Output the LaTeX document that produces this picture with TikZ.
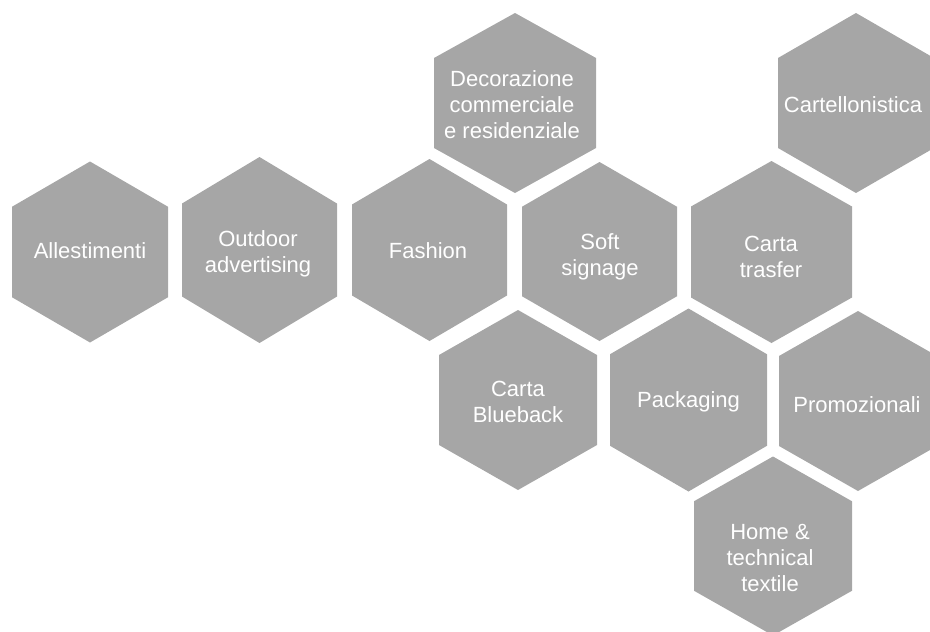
\documentclass[tikz,border=0pt]{standalone}
\usepackage{fontspec}
\setmainfont{Liberation Sans}
\definecolor{hexgray}{RGB}{166,166,166}
\tikzset{
  hexfill/.style={fill=hexgray, draw=none},
  hextext/.style={text=white, align=center, font=\fontsize{22}{26}\selectfont, inner sep=0pt},
}
% centre x, centre y, half-width, half-height
\newcommand{\hexshape}[4]{%
  \fill[hexfill] (#1,#2) +(0,-#4) -- +(#3,-#4/2) -- +(#3,#4/2) -- +(0,#4) -- +(-#3,#4/2) -- +(-#3,-#4/2) -- cycle;}
\begin{document}
\begin{tikzpicture}[x=1pt,y=-1pt]
\useasboundingbox (0,0) rectangle (930,632);
\clip (0,0) rectangle (930,632);
% hexagons
\hexshape{90}{252}{78}{90.5}
\hexshape{259.5}{250}{77.5}{93}
\hexshape{515}{103}{81}{90}
\hexshape{429.5}{250}{77.5}{91}
\hexshape{599.5}{251.5}{77.5}{89.5}
\hexshape{856}{103}{78}{90}
\hexshape{771.5}{252}{80.5}{91}
\hexshape{518}{400}{79}{90}
\hexshape{688.5}{400}{78.5}{91.5}
\hexshape{858}{401}{79}{90}
\hexshape{773}{546}{79}{89.5}
% labels
\node[hextext] (allestimenti) at (90,251) {Allestimenti};
\node[hextext] (outdoor) at (258,254) {Outdoor\\advertising};
\node[hextext] (decorazione) at (512,104.5) {Decorazione\\commerciale\\e residenziale};
\node[hextext] (fashion) at (428,251) {Fashion};
\node[hextext] (soft) at (600,257) {Soft\\signage};
\node[hextext] (cartellonistica) at (853,105) {Cartellonistica};
\node[hextext] (trasfer) at (771,257) {Carta\\trasfer};
\node[hextext] (blueback) at (518,401.5) {Carta\\Blueback};
\node[hextext] (packaging) at (688.5,401.5) {Packaging};
\node[hextext] (promozionali) at (857,405) {Promozionali};
\node[hextext] (home) at (770,557.5) {Home \&\\technical\\textile};
\end{tikzpicture}
\end{document}
